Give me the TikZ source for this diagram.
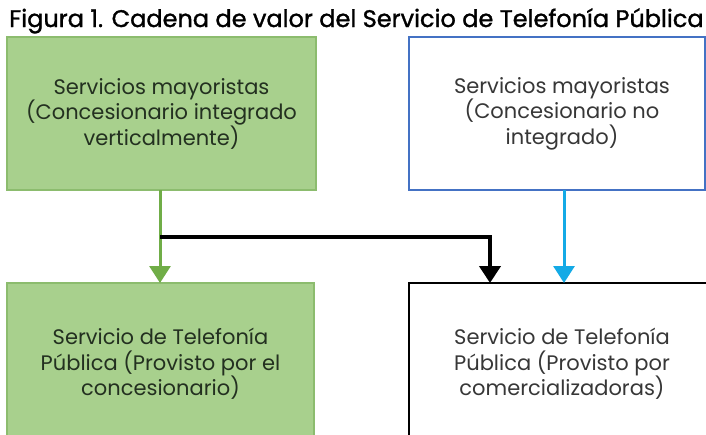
\documentclass[tikz,border=0pt]{standalone}
\usepackage{fontspec}
\setmainfont{Poppins}
\newfontfamily\titlefam[FakeBold=1.3]{Poppins}
\usetikzlibrary{arrows.meta}
\definecolor{gfill}{RGB}{168,208,141}
\definecolor{gline}{RGB}{140,188,110}
\definecolor{garr}{RGB}{112,173,71}
\definecolor{bline}{RGB}{68,114,196}
\definecolor{barr}{RGB}{20,170,230}
\definecolor{txt}{RGB}{55,55,55}
\definecolor{gtxt}{RGB}{35,48,32}
\tikzset{
  box/.style={rectangle, outer sep=0pt, inner sep=0pt, align=center, font=\fontsize{21}{25.5}\selectfont, line width=1.5pt},
  gbox/.style={box, fill=gfill, draw=gline, text=gtxt},
  wbox/.style={box, fill=white, text=txt},
  titlefont/.style={font=\titlefam\fontsize{24}{28}\selectfont, inner sep=0pt},
  arr/.style={-{Triangle[width=21pt,length=17pt]}},
}
\begin{document}
\begin{tikzpicture}[x=1pt,y=-1pt]
\useasboundingbox (0,0) rectangle (706,434);
\clip (0,0) rectangle (706,434);
\fill[white] (0,0) rectangle (706,434);
\node[titlefont, anchor=base west] (t) at (9,27) {Figura 1. Cadena de valor del Servicio de Telefonía Pública};
\node[gbox, minimum width=309pt, minimum height=153pt] (a) at (161.5,113.5) {Servicios mayoristas\\(Concesionario integrado\\verticalmente)};
\node[wbox, draw=bline, minimum width=296pt, minimum height=153pt] (b) at (557,113.5) {\hspace*{10pt}Servicios mayoristas\\\hspace*{10pt}(Concesionario no\\\hspace*{10pt}integrado)};
\node[gbox, minimum width=307pt, minimum height=162pt] (c) at (160.5,364) {Servicio de Telefonía\\Pública (Provisto por el\\concesionario)};
\node[wbox, draw=black, minimum width=306pt, minimum height=162pt] (d) at (562,364) {Servicio de Telefonía\\Pública (Provisto por\\comercializadoras)};
\coordinate (j) at (160,237);
\draw[arr, draw=garr, line width=3pt] (a.south -| j) -- (c.north -| j);
\draw[arr, draw=black, line width=4pt] (j) -| ([xshift=81pt]d.north west);
\draw[arr, draw=barr, line width=3pt] ([xshift=7pt]b.south) -- ([xshift=7pt]b.south |- d.north);
\end{tikzpicture}
\end{document}
